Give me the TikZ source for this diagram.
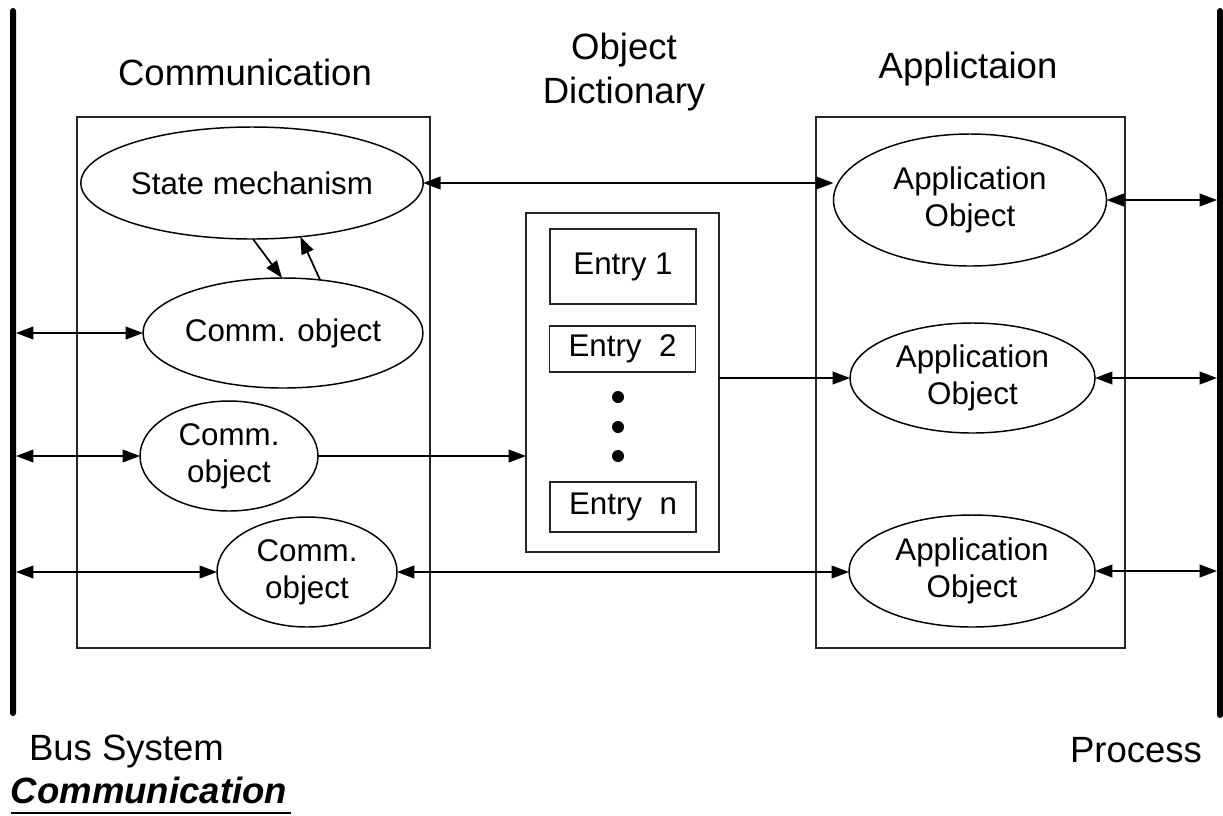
\documentclass[tikz,border=0pt]{standalone}
\usepackage{fontspec}
\setmainfont{Liberation Sans}
\usetikzlibrary{shapes.geometric,arrows.meta}
\newcommand\innerfont{\fontsize{23.5}{27.75}\selectfont}
\newcommand\titlefont{\fontsize{27.4}{32.3}\selectfont}
\begin{document}
\begin{tikzpicture}[x=0.75pt,y=-0.75pt,
  every node/.style={inner sep=0pt, outer sep=0pt},
  >={Triangle[length=13pt,width=9.5pt]},
  oval/.style={draw, ellipse, line width=1.1pt, font=\innerfont, align=center},
  frame/.style={draw=black!85, rectangle, line width=1.3pt},
  entrybox/.style={frame, font=\innerfont, minimum width=109.5pt},
  dotnode/.style={circle, fill=black, minimum size=9pt},
  bus/.style={fill=black, rectangle, rounded corners=2.2pt, minimum width=4.5pt},
  title/.style={font=\titlefont, align=center},
  conn/.style={line width=1.3pt}
]
\useasboundingbox (0,0) rectangle (1223,815);

% buses
\node[bus, minimum height=531pt] (busL) at (13,362) {};
\node[bus, minimum height=532.5pt] (busR) at (1220,363) {};

% frames
\node[frame, minimum width=264.75pt, minimum height=398.25pt] (commbox) at (253.5,382.5) {};
\node[frame, minimum width=231.75pt, minimum height=398.25pt] (appbox) at (970.5,382.5) {};
\node[frame, minimum width=144.75pt, minimum height=254.25pt] (dict) at (622.5,382.5) {};

% entries
\node[entrybox, minimum height=56.25pt] (e1) at (623,266.5) {Entry 1};
\node[entrybox, minimum height=34.5pt] (e2) at (622.5,349) {Entry\ \ 2};
\node[entrybox, minimum height=37.5pt] (en) at (623,507) {Entry\ \ n};
\node[dotnode] (d1) at (618,397) {};
\node[dotnode] (d2) at (618,427) {};
\node[dotnode] (d3) at (618,456) {};

% ellipses
\node[oval, minimum width=255pt, minimum height=84pt] (sm) at (252,183) {State mechanism};
\node[oval, minimum width=210pt, minimum height=82.5pt] (co1) at (283,333) {Comm. object};
\node[oval, minimum width=133.5pt, minimum height=82.5pt] (co2) at (229,456) {Comm.\\object};
\node[oval, minimum width=135pt, minimum height=82.5pt] (co3) at (307,572) {Comm.\\object};
\node[oval, minimum width=204.75pt, minimum height=99pt] (ao1) at (970,200) {Application\\Object};
\node[oval, minimum width=183.75pt, minimum height=82.5pt] (ao2) at (972.5,378) {Application\\Object};
\node[oval, minimum width=184.5pt, minimum height=84pt] (ao3) at (972,571) {Application\\Object};

% connectors
\draw[conn, <->] (sm.east) -- (sm.east -| ao1.west);
\draw[conn, <->] (busL.east |- co1.west) -- (co1.west);
\draw[conn, <->] (busL.east |- co2.west) -- (co2.west);
\draw[conn, <->] (busL.east |- co3.west) -- (co3.west);
\draw[conn, ->] (co2.east) -- (co2.east -| dict.west);
\draw[conn, ->] (ao2.west -| dict.east) -- (ao2.west);
\draw[conn, <->] (co3.east) -- (co3.east -| ao3.west);
\draw[conn, <->] (ao1.east) -- (ao1.east -| busR.west);
\draw[conn, <->] (ao2.east) -- (ao2.east -| busR.west);
\draw[conn, <->] (ao3.east) -- (ao3.east -| busR.west);
\draw[conn, ->] (sm.-89) -- (co1.91);
\draw[conn, ->] (co1.55) -- (sm.-48);

% titles
\node[title, anchor=base] (tcomm) at (245,85) {Communication};
\node[title, anchor=base] (tdict) at (624,103) {Object\\Dictionary};
\node[title, anchor=base] (tapp) at (968,78) {Applictaion};
\node[title, anchor=base west] (tbus) at (29,760) {Bus System};
\node[title, anchor=base east] (tproc) at (1202,762) {Process};
\node[title, anchor=base west, font=\titlefont\bfseries\itshape] (foot) at (11,803) {Communication};
\draw[line width=2.2pt] ([yshift=-7.5pt]foot.base west) -- ([yshift=-7.5pt,xshift=3pt]foot.base east);
\end{tikzpicture}
\end{document}
